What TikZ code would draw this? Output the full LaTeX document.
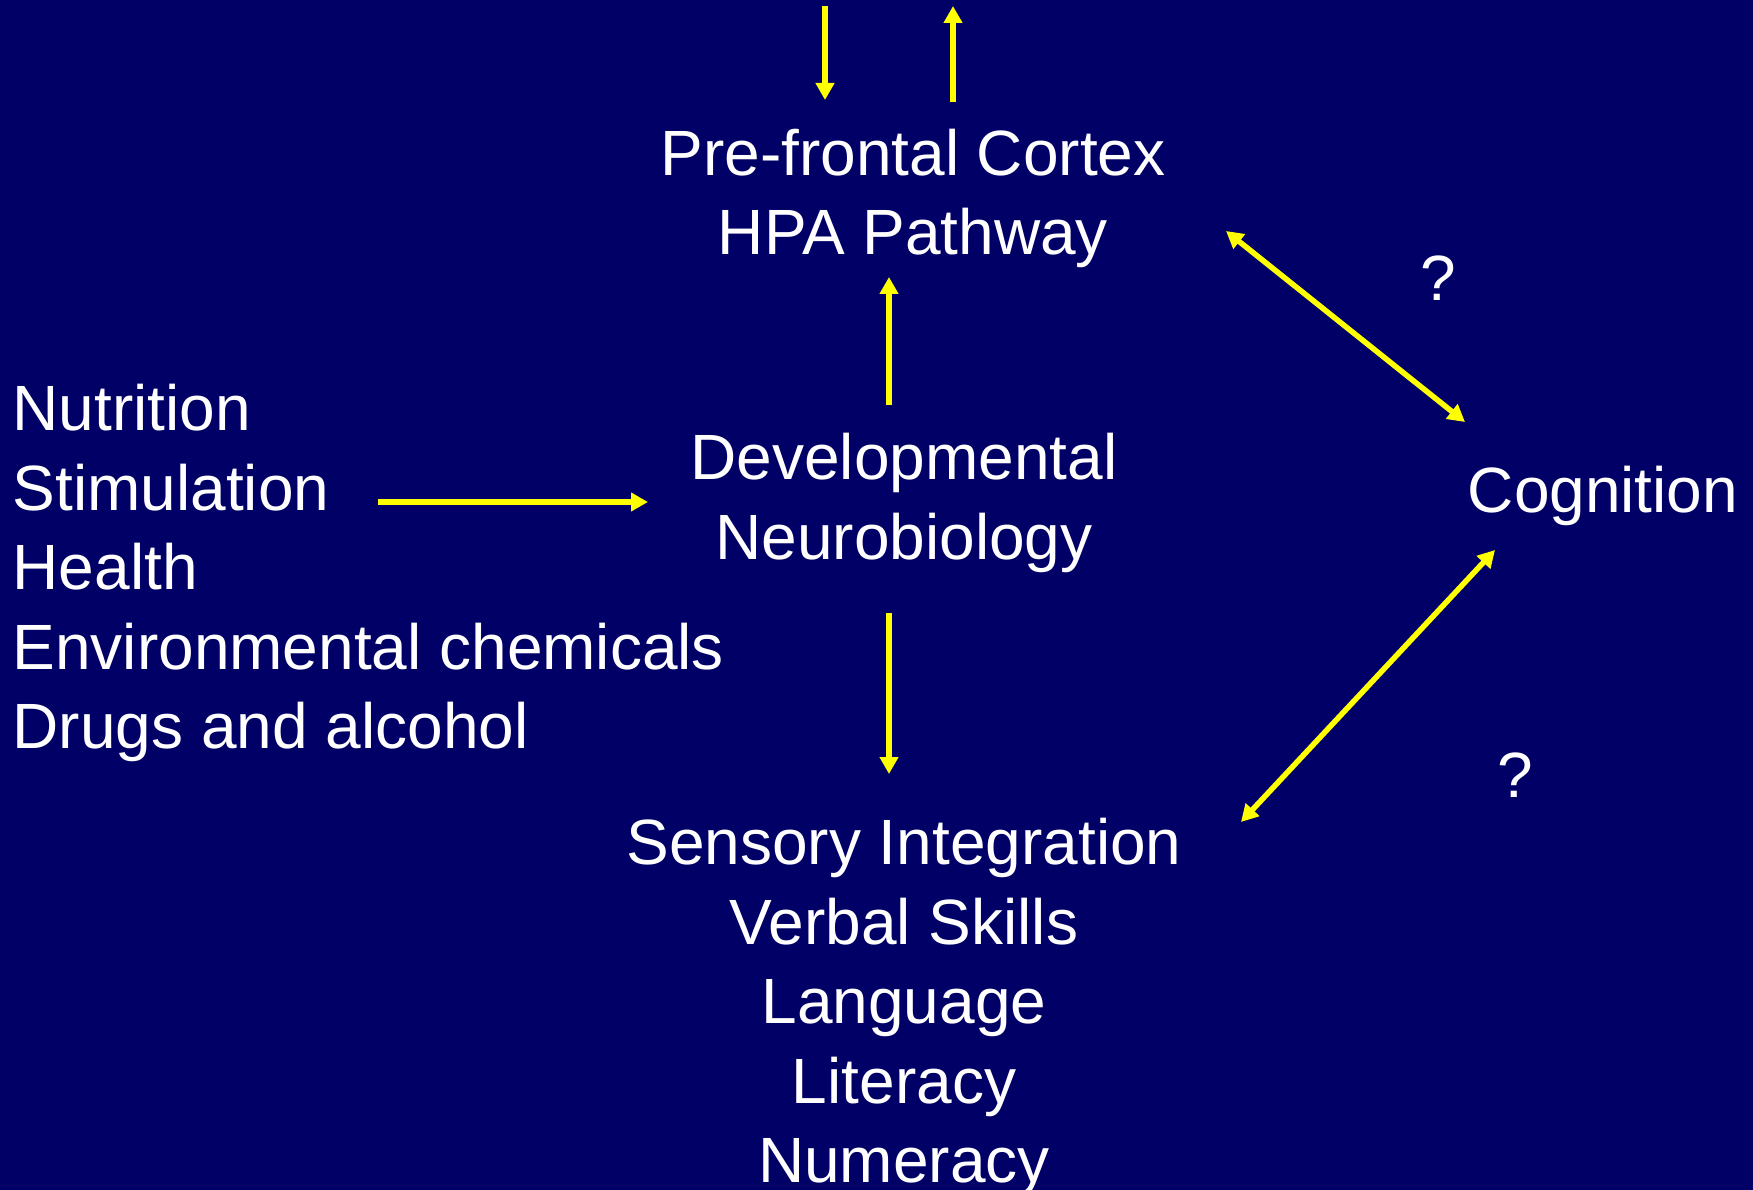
\documentclass[tikz,border=0pt]{standalone}
\usepackage{fontspec}
\setmainfont{Liberation Sans}
\usetikzlibrary{arrows.meta}
\definecolor{slidebg}{RGB}{0,0,102}
\definecolor{arrowyellow}{RGB}{255,255,0}
\begin{document}
\begin{tikzpicture}[x=1pt,y=-1pt,
  lbl/.style={text=white, inner sep=0pt, font=\fontsize{64}{79.5}\selectfont},
  arr/.style={draw=arrowyellow, line width=6pt,
    -{Triangle[width=18pt,length=17pt]}},
  biarr/.style={draw=arrowyellow, line width=5.5pt,
    {Triangle[width=18pt,length=17pt]}-{Triangle[width=18pt,length=17pt]}}]
  % background and page frame
  \fill[slidebg] (0,0) rectangle (1753,1190);
  \useasboundingbox (0,0) rectangle (1753,1190);

  % text blocks
  \node[lbl, anchor=north, align=center] (pfc) at (913,128.5)
    {Pre-frontal Cortex\\HPA Pathway};
  \node[lbl, anchor=north, align=center] (dev) at (904,433)
    {Developmental\\Neurobiology};
  \node[lbl, anchor=north west, align=left] (factors) at (12.5,384)
    {Nutrition\\Stimulation\\Health\\Environmental chemicals\\Drugs and alcohol};
  \node[lbl, anchor=north, align=center] (skills) at (904,818)
    {Sensory Integration\\Verbal Skills\\Language\\Literacy\\Numeracy};
  \node[lbl, anchor=base] (cog) at (1603,512) {Cognition};
  \node[lbl, anchor=base] (q1) at (1438,301) {?};
  \node[lbl, anchor=base] (q2) at (1515,797) {?};

  % arrow end points
  \coordinate (inTop) at (825,6);
  \coordinate (inBot) at (825,100);
  \coordinate (outBot) at (953,102);
  \coordinate (outTop) at (953,6);
  \coordinate (devUpS) at (889,405);
  \coordinate (devUpE) at (889,277);
  \coordinate (facS) at (378,502);
  \coordinate (facE) at (648,502);
  \coordinate (devDnS) at (889,613);
  \coordinate (devDnE) at (889,774);
  \coordinate (pfcCogA) at (1226,231);
  \coordinate (pfcCogB) at (1465,422);
  \coordinate (cogSkA) at (1495,550);
  \coordinate (cogSkB) at (1241,822);

  % connectors
  \draw[arr] (inTop) -- (inBot);
  \draw[arr] (outBot) -- (outTop);
  \draw[arr] (devUpS) -- (devUpE);
  \draw[arr] (facS) -- (facE);
  \draw[arr] (devDnS) -- (devDnE);
  \draw[biarr] (pfcCogA) -- (pfcCogB);
  \draw[biarr] (cogSkA) -- (cogSkB);
\end{tikzpicture}
\end{document}
